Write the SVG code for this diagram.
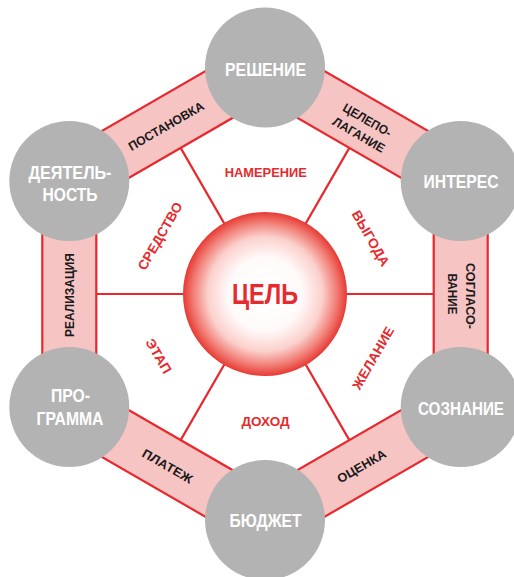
<svg xmlns="http://www.w3.org/2000/svg" width="514" height="577" viewBox="0 0 514 577">
  <defs>
    <radialGradient id="goalGrad" cx="50%" cy="50%" r="50%">
      <stop offset="0%" stop-color="#ffffff"/>
      <stop offset="45%" stop-color="#fffafa"/>
      <stop offset="70%" stop-color="#fbd0cc"/>
      <stop offset="88%" stop-color="#f17a72"/>
      <stop offset="100%" stop-color="#e63a33"/>
    </radialGradient>
    <style>
      .band { fill: #f7c4c4; stroke: #e8282d; stroke-width: 2.2; }
      .spoke { stroke: #e8282d; stroke-width: 2.2; fill: none; }
      .node { fill: #b3b3b3; }
      .nodeText { font-family: "Liberation Sans", Arial, sans-serif; font-weight: bold; font-size: 17.5px; fill: #ffffff; text-anchor: middle; }
      .bandText { font-family: "Liberation Sans", Arial, sans-serif; font-weight: bold; font-size: 12.5px; fill: #1a1a1a; text-anchor: middle; }
      .redText { font-family: "Liberation Sans", Arial, sans-serif; font-weight: bold; font-size: 13.5px; fill: #e52b2d; text-anchor: middle; }
      .goalText { font-family: "Liberation Sans", Arial, sans-serif; font-weight: bold; font-size: 29px; fill: #e52b2d; text-anchor: middle; }
    </style>
  </defs>

  <g id="connectors">
    <g id="spokes">
      <line class="spoke" x1="265" y1="294" x2="433.7" y2="294"/>
      <line class="spoke" x1="265" y1="294" x2="349.35" y2="440.1"/>
      <line class="spoke" x1="265" y1="294" x2="180.65" y2="440.1"/>
      <line class="spoke" x1="265" y1="294" x2="96.3" y2="294"/>
      <line class="spoke" x1="265" y1="294" x2="180.65" y2="147.9"/>
      <line class="spoke" x1="265" y1="294" x2="349.35" y2="147.9"/>
    </g>
    <g id="band-postanovka" transform="translate(167.15,124.5) rotate(-30)">
      <rect class="band" x="-113" y="-27" width="226" height="54"/>
    </g>
    <g id="band-celepolaganie" transform="translate(362.85,124.5) rotate(30)">
      <rect class="band" x="-113" y="-27" width="226" height="54"/>
    </g>
    <g id="band-soglasovanie" transform="translate(460.7,294) rotate(90)">
      <rect class="band" x="-113" y="-27" width="226" height="54"/>
    </g>
    <g id="band-ocenka" transform="translate(362.85,463.5) rotate(-30)">
      <rect class="band" x="-113" y="-27" width="226" height="54"/>
    </g>
    <g id="band-platezh" transform="translate(167.15,463.5) rotate(30)">
      <rect class="band" x="-113" y="-27" width="226" height="54"/>
    </g>
    <g id="band-realizaciya" transform="translate(69.3,294) rotate(90)">
      <rect class="band" x="-113" y="-27" width="226" height="54"/>
    </g>
  </g>

  <g id="band-labels">
    <text class="bandText" transform="translate(166,126) rotate(-30)" x="0" y="4.5" textLength="85" lengthAdjust="spacingAndGlyphs">ПОСТАНОВКА</text>
    <g transform="translate(363,127.5) rotate(30)">
      <text class="bandText" x="0" y="-4.2" textLength="54" lengthAdjust="spacingAndGlyphs">ЦЕЛЕПО-</text>
      <text class="bandText" x="0" y="12.8" textLength="58" lengthAdjust="spacingAndGlyphs">ЛАГАНИЕ</text>
    </g>
    <g transform="translate(461,296) rotate(90)">
      <text class="bandText" x="0" y="-4.7" textLength="66" lengthAdjust="spacingAndGlyphs">СОГЛАСО-</text>
      <text class="bandText" x="-2" y="13.3" textLength="41" lengthAdjust="spacingAndGlyphs">ВАНИЕ</text>
    </g>
    <text class="bandText" transform="translate(361.5,466) rotate(-30)" x="0" y="4.5" textLength="54" lengthAdjust="spacingAndGlyphs">ОЦЕНКА</text>
    <text class="bandText" transform="translate(167.5,466) rotate(30)" x="0" y="4.5" textLength="56" lengthAdjust="spacingAndGlyphs">ПЛАТЕЖ</text>
    <text class="bandText" transform="translate(69.5,295) rotate(-90)" x="0" y="4.5" textLength="84" lengthAdjust="spacingAndGlyphs">РЕАЛИЗАЦИЯ</text>
  </g>

  <g id="sector-labels">
    <text class="redText" x="265.8" y="176.9" textLength="82" lengthAdjust="spacingAndGlyphs">НАМЕРЕНИЕ</text>
    <text class="redText" transform="translate(370.8,238.3) rotate(60)" x="0" y="4.8" textLength="62" lengthAdjust="spacingAndGlyphs">ВЫГОДА</text>
    <text class="redText" transform="translate(373,358) rotate(-60)" x="0" y="4.8" textLength="70" lengthAdjust="spacingAndGlyphs">ЖЕЛАНИЕ</text>
    <text class="redText" x="265.5" y="425.5" textLength="48" lengthAdjust="spacingAndGlyphs">ДОХОД</text>
    <text class="redText" transform="translate(158.7,356) rotate(60)" x="0" y="4.8" textLength="38" lengthAdjust="spacingAndGlyphs">ЭТАП</text>
    <text class="redText" transform="translate(160,236) rotate(-60)" x="0" y="4.8" textLength="76" lengthAdjust="spacingAndGlyphs">СРЕДСТВО</text>
  </g>

  <g id="node-goal">
    <circle cx="265" cy="294" r="82" fill="url(#goalGrad)"/>
    <text class="goalText" x="265" y="304" textLength="66" lengthAdjust="spacingAndGlyphs">ЦЕЛЬ</text>
  </g>

  <g id="node-reshenie">
    <circle class="node" cx="265" cy="67.5" r="60"/>
    <text class="nodeText" x="265.5" y="75.5" textLength="81" lengthAdjust="spacingAndGlyphs">РЕШЕНИЕ</text>
  </g>
  <g id="node-interes">
    <circle class="node" cx="460.7" cy="181" r="60"/>
    <text class="nodeText" x="461" y="187.5" textLength="75" lengthAdjust="spacingAndGlyphs">ИНТЕРЕС</text>
  </g>
  <g id="node-soznanie">
    <circle class="node" cx="460.7" cy="407" r="60"/>
    <text class="nodeText" x="461" y="414.5" textLength="86" lengthAdjust="spacingAndGlyphs">СОЗНАНИЕ</text>
  </g>
  <g id="node-byudzhet">
    <circle class="node" cx="265" cy="520" r="60"/>
    <text class="nodeText" x="265.5" y="526.5" textLength="72" lengthAdjust="spacingAndGlyphs">БЮДЖЕТ</text>
  </g>
  <g id="node-programma">
    <circle class="node" cx="69.3" cy="407" r="60"/>
    <text class="nodeText" x="70.5" y="401.7" textLength="39" lengthAdjust="spacingAndGlyphs">ПРО-</text>
    <text class="nodeText" x="70" y="425" textLength="67" lengthAdjust="spacingAndGlyphs">ГРАММА</text>
  </g>
  <g id="node-deyatelnost">
    <circle class="node" cx="69.3" cy="181" r="60"/>
    <text class="nodeText" x="70" y="179" textLength="83" lengthAdjust="spacingAndGlyphs">ДЕЯТЕЛЬ-</text>
    <text class="nodeText" x="70" y="201" textLength="55" lengthAdjust="spacingAndGlyphs">НОСТЬ</text>
  </g>
</svg>
